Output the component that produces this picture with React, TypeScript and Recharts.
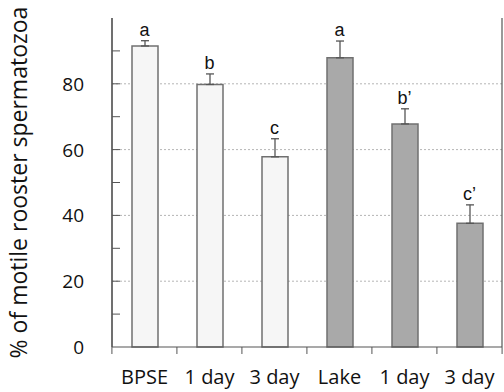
import { ComposedChart, Bar, Cell, ErrorBar, Scatter, XAxis, YAxis, CartesianGrid } from "recharts";

const categories = ["BPSE", "1 day", "3 day", "Lake", "1 day", "3 day"];
const motile = [91.5, 79.8, 57.8, 87.9, 67.8, 37.6];
const errors = [1.6, 3.2, 5.5, 5.1, 4.6, 5.6];
const letters = ["a", "b", "c", "a", "b\u2019", "c\u2019"];
const groups = ["BPSE", "BPSE", "BPSE", "Lake", "Lake", "Lake"];
const yTicks = [0, 10, 20, 30, 40, 50, 60, 70, 80, 90, 100];
const yLabels = [0, 20, 40, 60, 80];
const gridLines = [20, 40, 60, 80];

const fills: Record<string, string> = { BPSE: "#f6f6f6", Lake: "#a9a9a9" };
const font = "'Open Sans'";

const data = categories.map((c, i) => ({
  id: i,
  name: c,
  value: motile[i],
  err: [0, errors[i]],
  top: motile[i] + errors[i],
  letter: letters[i],
}));

const YTick = (props: any) => {
  const { x, y, payload } = props;
  const v = payload.value;
  return (
    <g>
      {v !== 0 && v !== 100 && <line x1={x} x2={x + 8} y1={y} y2={y} stroke="#555" strokeWidth={1} />}
      {yLabels.includes(v) && (
        <text x={x - 28} y={y} dy={7} textAnchor="end" fontFamily={font} fontSize={19} fill="#111">
          {v}
        </text>
      )}
    </g>
  );
};

// category label plus the boundary tick to its left (and right for the last one)
const XTick = (props: any) => {
  const { x, y, payload, index, visibleTicksCount } = props;
  const band = 391 / categories.length;
  return (
    <g>
      <line x1={x - band / 2} x2={x - band / 2} y1={y} y2={y + 7} stroke="#555" strokeWidth={1} />
      {index === visibleTicksCount - 1 && (
        <line x1={x + band / 2} x2={x + band / 2} y1={y} y2={y + 7} stroke="#555" strokeWidth={1} />
      )}
      <text x={x} y={y + 37} textAnchor="middle" fontFamily={font} fontSize={20} fill="#111">
        {categories[payload.value]}
      </text>
    </g>
  );
};

const LetterShape = (props: any) => {
  const { cx, cy, payload } = props;
  return (
    <text x={cx} y={cy - 5} textAnchor="middle" fontFamily="Liberation Sans" fontSize={18} fill="#111">
      {payload.letter}
    </text>
  );
};

export default function App() {
  return (
    <div style={{ position: "absolute", left: 0, top: 0 }}>
      <ComposedChart width={504} height={392} data={data} margin={{ top: 18, right: 1, left: 0, bottom: 0 }}>
        <CartesianGrid
          xAxisId="main"
          yAxisId="left"
          vertical={false}
          horizontalValues={gridLines}
          stroke="#b5b5b5"
          strokeDasharray="2 2"
        />
        {/* left frame edge */}
        <CartesianGrid
          xAxisId="frame"
          yAxisId="left"
          horizontal={false}
          verticalValues={[0]}
          stroke="#555"
          strokeWidth={1.2}
        />
        <XAxis
          xAxisId="main"
          dataKey="id"
          tick={<XTick />}
          tickLine={false}
          tickSize={0}
          tickMargin={0}
          axisLine={{ stroke: "#555", strokeWidth: 1.2 }}
          height={45}
        />
        <XAxis xAxisId="frame" type="number" domain={[0, 6]} hide height={0} />
        <XAxis xAxisId="top" orientation="top" dataKey="id" height={0} tick={false} tickLine={false} axisLine={{ stroke: "#555", strokeWidth: 1.2 }} />
        <YAxis
          yAxisId="left"
          domain={[0, 100]}
          ticks={yTicks}
          interval={0}
          tick={<YTick />}
          tickLine={false}
          tickSize={0}
          tickMargin={0}
          axisLine={{ stroke: "#555", strokeWidth: 1.2 }}
          width={112}
          label={{
            value: "% of motile rooster spermatozoa",
            angle: -90,
            position: "insideLeft",
            dx: 14,
            dy: 0,
            style: { fontFamily: font, fontSize: 23, fill: "#111", textAnchor: "middle" },
          }}
        />
        <YAxis yAxisId="box" orientation="right" width={1} tick={false} tickLine={false} axisLine={{ stroke: "#555", strokeWidth: 1.2 }} />
        <Bar xAxisId="main" yAxisId="left" dataKey="value" barSize={26} stroke="#707070" strokeWidth={1.5} isAnimationActive={false}>
          {data.map((d, i) => (
            <Cell key={d.id} fill={fills[groups[i]]} />
          ))}
          <ErrorBar dataKey="err" width={4} stroke="#555" strokeWidth={1.3} direction="y" />
        </Bar>
        <Scatter xAxisId="main" yAxisId="left" dataKey="top" shape={<LetterShape />} isAnimationActive={false} />
      </ComposedChart>
    </div>
  );
}
